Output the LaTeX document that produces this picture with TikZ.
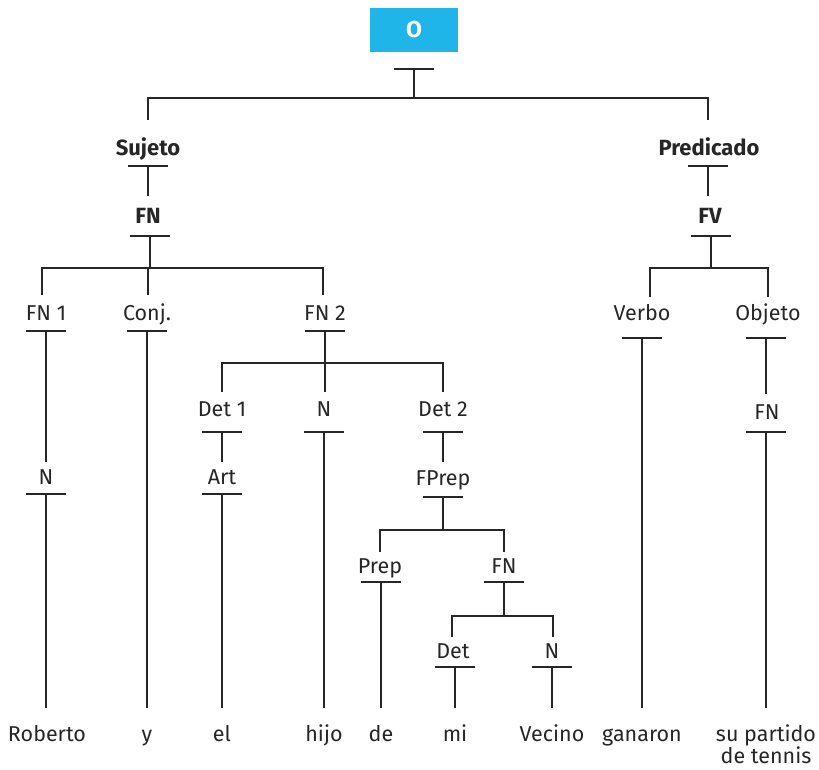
\documentclass[tikz,border=0pt]{standalone}
\usepackage{fontspec}
\setmainfont{Fira Sans}
\begin{document}
\begin{tikzpicture}[x=1pt,y=-1pt,
  ln/.style={draw=black!85,line width=1.8pt},
  lab/.style={anchor=base,inner sep=0pt,font=\fontsize{21.5}{24}\selectfont,text=black!85},
  blab/.style={lab,font=\fontsize{22}{26}\selectfont\bfseries},
  leaf/.style={lab,align=center}]
\useasboundingbox (0,0) rectangle (819,769);
\definecolor{boxc}{HTML}{1FB5E8}
% root
\node[fill=boxc,minimum width=88pt,minimum height=44pt,inner sep=0pt,text=white,font=\fontsize{23}{26}\selectfont\bfseries] (O) at (414,30) {O};
\newcommand\tbar[4][20]{\coordinate (#2) at (#3,#4); \draw[ln] ([xshift=-#1pt]#2) -- ([xshift=#1pt]#2);}
% labels
\node[blab] (suj) at (148,155) {Sujeto};
\node[blab] (pred) at (709,155) {Predicado};
\node[blab] (fn) at (148,223) {FN};
\node[blab] (fv) at (710,223) {FV};
\node[lab] (fn1) at (46,320) {FN 1};
\node[lab] (conj) at (147,320) {Conj.};
\node[lab] (fn2) at (325,320) {FN 2};
\node[lab] (verbo) at (642,320) {Verbo};
\node[lab] (objeto) at (768,320) {Objeto};
\node[lab] (det1) at (222,416) {Det 1};
\node[lab] (nn) at (324,416) {N};
\node[lab] (det2) at (443,416) {Det 2};
\node[lab] (fnobj) at (767,419) {FN};
\node[lab] (n1) at (46,484) {N};
\node[lab] (art) at (222,484) {Art};
\node[lab] (fprep) at (443,485) {FPrep};
\node[lab] (prep) at (380,573) {Prep};
\node[lab] (fnp) at (504,573) {FN};
\node[lab] (det) at (453,658) {Det};
\node[lab] (n2) at (552,658) {N};
% leaves
\node[leaf] (w1) at (47,741) {Roberto};
\node[leaf] (w2) at (147,741) {y};
\node[leaf] (w3) at (222,741) {el};
\node[leaf] (w4) at (324,741) {hijo};
\node[leaf] (w5) at (381,741) {de};
\node[leaf] (w6) at (455,741) {mi};
\node[leaf] (w7) at (552,741) {Vecino};
\node[leaf] (w8) at (642,741) {ganaron};
\node[leaf] (w9) at (766,741) {su partido};
\node[leaf] (w10) at (766,763) {de tennis};
% bars
\tbar{Ob}{414}{69}
\tbar{sujb}{148}{166}
\tbar{predb}{708}{166}
\tbar{fnb}{150}{236}
\tbar{fvb}{711}{236}
\tbar{fn1b}{46}{331}
\tbar{conjb}{147}{331}
\tbar{fn2b}{325}{331}
\tbar{verbob}{642}{338}
\tbar{objetob}{766}{338}
\tbar{det1b}{222}{432}
\tbar{nnb}{324}{432}
\tbar{det2b}{443}{432}
\tbar{fnobjb}{766}{432}
\tbar{n1b}{46}{494}
\tbar{artb}{222}{494}
\tbar{fprepb}{443}{497}
\tbar{prepb}{381}{582}
\tbar{fnpb}{504}{582}
\tbar{detb}{455}{667}
\tbar{n2b}{552}{667}
% connector end points
\coordinate (j0) at (414,98);
\coordinate (sujt) at (148,120);
\coordinate (predt) at (708,120);
\coordinate (fnt) at (148,196);
\coordinate (fvt) at (708,196);
\coordinate (j1) at (150,268);
\coordinate (fn1t) at (42,295);
\coordinate (conjt) at (148,295);
\coordinate (fn2t) at (323,295);
\coordinate (j2) at (711,268);
\coordinate (verbot) at (650,297);
\coordinate (objetot) at (768,297);
\coordinate (j3) at (325,363);
\coordinate (det1t) at (222,392);
\coordinate (nnt) at (325,392);
\coordinate (det2t) at (443,392);
\coordinate (n1t) at (46,462);
\coordinate (artt) at (222,462);
\coordinate (fprept) at (443,462);
\coordinate (fnobjt) at (766,394);
\coordinate (j4) at (443,530);
\coordinate (prept) at (380,552);
\coordinate (fnpt) at (504,552);
\coordinate (j5) at (504,616);
\coordinate (dett) at (452,637);
\coordinate (n2t) at (553,637);
\coordinate (e1) at (46,708);
\coordinate (e2) at (147,708);
\coordinate (e3) at (222,708);
\coordinate (e4) at (324,708);
\coordinate (e5) at (381,708);
\coordinate (e6) at (455,708);
\coordinate (e7) at (552,708);
\coordinate (e8) at (642,708);
\coordinate (e9) at (766,708);
% connectors
\draw[ln] (Ob) -- (j0);
\draw[ln] (sujt) |- (j0) -| (predt);
\draw[ln] (sujb) -- (fnt);
\draw[ln] (predb) -- (fvt);
\draw[ln] (fnb) -- (j1);
\draw[ln] (fn1t) |- (j1) -| (fn2t);
\draw[ln] (conjt) -- (conjt |- j1);
\draw[ln] (fvb) -- (j2);
\draw[ln] (verbot) |- (j2) -| (objetot);
\draw[ln] (fn1b) -- (n1t);
\draw[ln] (n1b) -- (e1);
\draw[ln] (conjb) -- (e2);
\draw[ln] (fn2b) -- (nnt);
\draw[ln] (det1t) |- (j3) -| (det2t);
\draw[ln] (det1b) -- (artt);
\draw[ln] (artb) -- (e3);
\draw[ln] (nnb) -- (e4);
\draw[ln] (det2b) -- (fprept);
\draw[ln] (fprepb) -- (j4);
\draw[ln] (prept) |- (j4) -| (fnpt);
\draw[ln] (prepb) -- (e5);
\draw[ln] (fnpb) -- (j5);
\draw[ln] (dett) |- (j5) -| (n2t);
\draw[ln] (detb) -- (e6);
\draw[ln] (n2b) -- (e7);
\draw[ln] (verbob) -- (e8);
\draw[ln] (objetob) -- (fnobjt);
\draw[ln] (fnobjb) -- (e9);
\end{tikzpicture}
\end{document}
